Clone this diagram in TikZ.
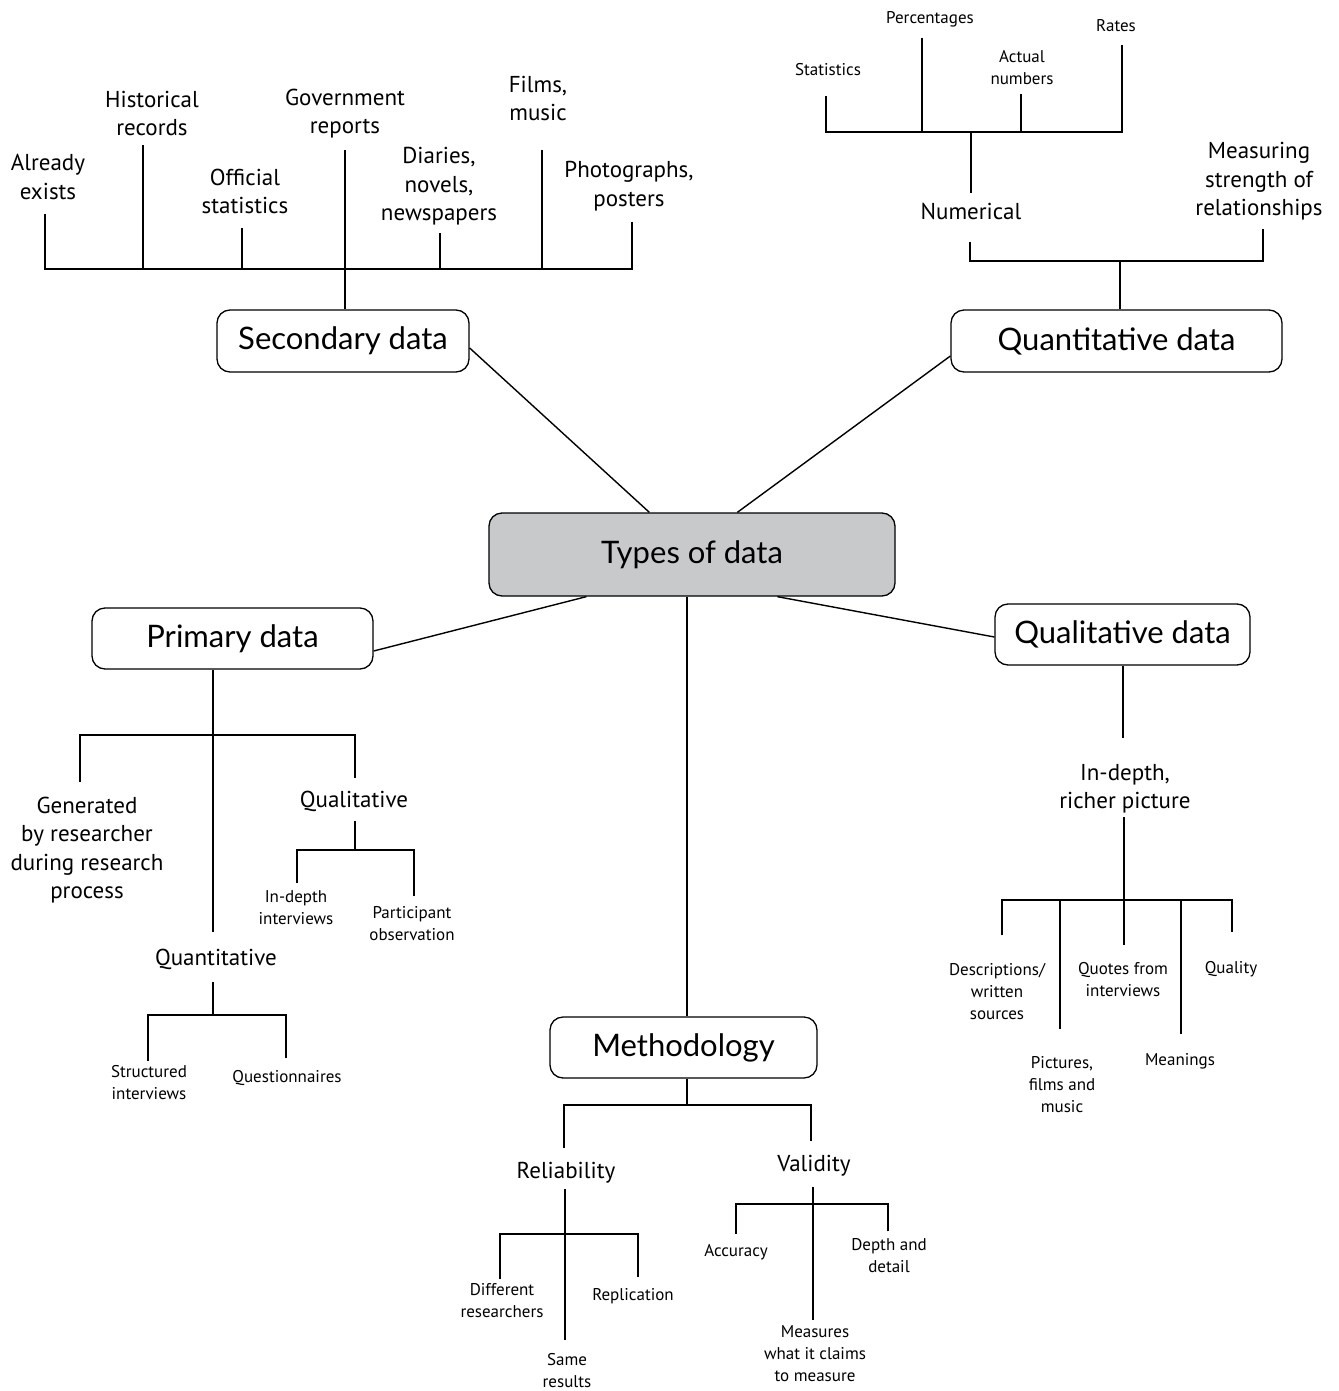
\documentclass[tikz,border=0pt]{standalone}
\usepackage{fontspec}
\setmainfont{PT Sans}
\newfontfamily\boxfont{Lato}
\definecolor{typfill}{RGB}{200,201,203}
\begin{document}
\begin{tikzpicture}[x=1pt,y=-1pt,
  ln/.style={line width=1.4pt},
  bx/.style={draw, line width=1.3pt, rounded corners=13pt, inner sep=0pt, font=\boxfont\fontsize{31}{36}\selectfont},
  md/.style={inner sep=0pt, outer sep=0pt, align=center, font=\fontsize{23}{28.5}\selectfont},
  sm/.style={inner sep=0pt, outer sep=0pt, align=center, font=\fontsize{17}{22}\selectfont},
]
\useasboundingbox (0,0) rectangle (1338,1391);
% main boxes
\node[bx, minimum width=252pt, minimum height=62pt] (sec) at (343,341) {Secondary data};
\node[bx, minimum width=331pt, minimum height=62pt] (qnt) at (1116.5,341) {Quantitative data};
\node[bx, fill=typfill, minimum width=406pt, minimum height=83pt] (typ) at (692,554.5) {Types of data};
\node[bx, minimum width=281pt, minimum height=61pt] (pri) at (232.5,638.5) {Primary data};
\node[bx, minimum width=255pt, minimum height=61pt] (qlt) at (1122.5,634.5) {Qualitative data};
\node[bx, minimum width=267pt, minimum height=61pt] (met) at (683.5,1047.5) {Methodology};
% connectors from centre
\draw[ln] ([xshift=161pt]typ.north west) -- ([yshift=-7pt]sec.east);
\draw[ln] ([xshift=249pt]typ.north west) -- ([yshift=-15pt]qnt.west);
\draw[ln] ([xshift=98pt]typ.south west) -- ([yshift=-12.5pt]pri.east);
\draw[ln] ([xshift=289pt]typ.south west) -- ([yshift=-2.5pt]qlt.west);
\draw[ln] ([xshift=-5pt]typ.south) -- ([xshift=-5pt]typ.south |- met.north);
% secondary tree
\coordinate (sj) at (345,269);
\node[md] (ae) at (48,177) {Already\\exists};
\node[md] (hr) at (152,113.5) {Historical\\records};
\node[md] (os) at (245,191.5) {Official\\statistics};
\node[md] (gr) at (345,113.5) {Government\\reports};
\node[md] (dn) at (439,186.5) {Diaries,\\novels,\\newspapers};
\node[md] (fm) at (538,98.5) {Films,\\music};
\node[md] (pp) at (629,186) {Photographs,\\posters};
\draw[ln] ([shift={(-3,14)}]ae.south) |- (sj);
\draw[ln] ([shift={(-9,9)}]hr.south) |- (sj);
\draw[ln] ([shift={(-3,14)}]os.south) |- (sj);
\draw[ln] ([shift={(0,12)}]gr.south) -- (sec.north -| gr.south);
\draw[ln] ([shift={(1,8)}]dn.south) |- (sj);
\draw[ln] ([shift={(4,29)}]fm.south) |- (sj);
\draw[ln] ([shift={(3,11)}]pp.south) |- (sj);
% quantitative tree
\coordinate (qa) at (971,132);
\coordinate (qb) at (1120,261);
\node[sm] (st) at (828,70) {Statistics};
\node[sm] (pc) at (930,19) {Percentages};
\node[sm] (an) at (1022,68) {Actual\\numbers};
\node[sm] (rt) at (1116,26) {Rates};
\node[md] (num) at (971,211) {Numerical};
\node[md] (ms) at (1259,181.5) {Measuring\\strength of\\relationships};
\draw[ln] ([shift={(-2,20)}]st.south) |- (qa);
\draw[ln] ([shift={(-8,11.5)}]pc.south) |- (qa);
\draw[ln] ([shift={(-1,9)}]an.south) |- (qa);
\draw[ln] ([shift={(6,13)}]rt.south) |- (qa);
\draw[ln] (qa) -- ([shift={(0,-10)}]num.north);
\draw[ln] ([shift={(-1,23)}]num.south) |- (qb);
\draw[ln] ([shift={(4,9)}]ms.south) |- (qb);
\draw[ln] (qb) -- (qb |- qnt.north);
% primary tree
\coordinate (pa) at (213,735);
\coordinate (pb) at (355,850);
\coordinate (pq) at (213,1015);
\node[md] (gen) at (87,850) {Generated\\by researcher\\during research\\process};
\node[md] (ql) at (354,801.5) {Qualitative};
\node[sm] (idi) at (296,908) {In-depth\\interviews};
\node[sm] (po) at (412,924) {Participant\\observation};
\node[md] (qn) at (216,959) {Quantitative};
\node[sm] (si) at (149,1083) {Structured\\interviews};
\node[sm] (qs) at (287,1078) {Questionnaires};
\draw[ln] ([xshift=-19.5pt]pri.south) -- ([shift={(-3,-17)}]qn.north);
\draw[ln] ([shift={(-7,-15)}]gen.north) |- (pa);
\draw[ln] ([shift={(1,-13)}]ql.north) |- (pa);
\draw[ln] ([shift={(1,9)}]ql.south) -- (pb);
\draw[ln] ([shift={(1,-7.5)}]idi.north) |- (pb);
\draw[ln] ([shift={(2,-10.5)}]po.north) |- (pb);
\draw[ln] ([shift={(-3,13)}]qn.south) -- (pq);
\draw[ln] ([shift={(-1,-4.5)}]si.north) |- (pq);
\draw[ln] ([shift={(-1,-12.5)}]qs.north) |- (pq);
% methodology tree
\coordinate (ma) at (687,1105);
\coordinate (ra) at (565,1234);
\coordinate (va) at (813,1204);
\node[md] (rel) at (566,1172.5) {Reliability};
\node[md] (val) at (814,1165.5) {Validity};
\node[sm] (dr) at (502,1301) {Different\\researchers};
\node[sm] (rp) at (633,1296) {Replication};
\node[sm] (sr) at (567,1371) {Same\\results};
\node[sm] (ac) at (736,1252) {Accuracy};
\node[sm] (dd) at (889,1256) {Depth and\\detail};
\node[sm] (mw) at (815,1354) {Measures\\what it claims\\to measure};
\draw[ln] ([xshift=3.5pt]met.south) -- (ma);
\draw[ln] ([shift={(-2,-14)}]rel.north) |- (ma);
\draw[ln] ([shift={(-3,-14)}]val.north) |- (ma);
\draw[ln] ([shift={(-1,6)}]rel.south) -- ([shift={(-2,-13.5)}]sr.north);
\draw[ln] ([shift={(-2,-4.5)}]dr.north) |- (ra);
\draw[ln] ([shift={(5,-11.5)}]rp.north) |- (ra);
\draw[ln] ([shift={(-1,11)}]val.south) -- ([shift={(-2,-5.5)}]mw.north);
\draw[ln] ([shift={(0,-10.5)}]ac.north) |- (va);
\draw[ln] ([shift={(-1,-7.5)}]dd.north) |- (va);
% qualitative tree
\coordinate (qq) at (1124,900);
\node[md] (ir) at (1125,788.5) {In-depth,\\richer picture};
\node[sm] (ds) at (997,992) {Descriptions/\\written\\sources};
\node[sm] (qf) at (1123,980) {Quotes from\\interviews};
\node[sm] (qu) at (1231,969) {Quality};
\node[sm] (pf) at (1062,1085) {Pictures,\\films and\\music};
\node[sm] (mn) at (1180,1061) {Meanings};
\draw[ln] ([xshift=0.5pt]qlt.south) -- ([shift={(-2,-26)}]ir.north);
\draw[ln] ([shift={(-1,4)}]ir.south) -- ([shift={(1,-17.5)}]qf.north);
\draw[ln] ([shift={(5,-28.5)}]ds.north) |- (qq);
\draw[ln] ([shift={(1,-29.5)}]qu.north) |- (qq);
\draw[ln] ([shift={(-2,-27.5)}]pf.north) |- (qq);
\draw[ln] ([shift={(1,-19.5)}]mn.north) |- (qq);
\end{tikzpicture}
\end{document}
